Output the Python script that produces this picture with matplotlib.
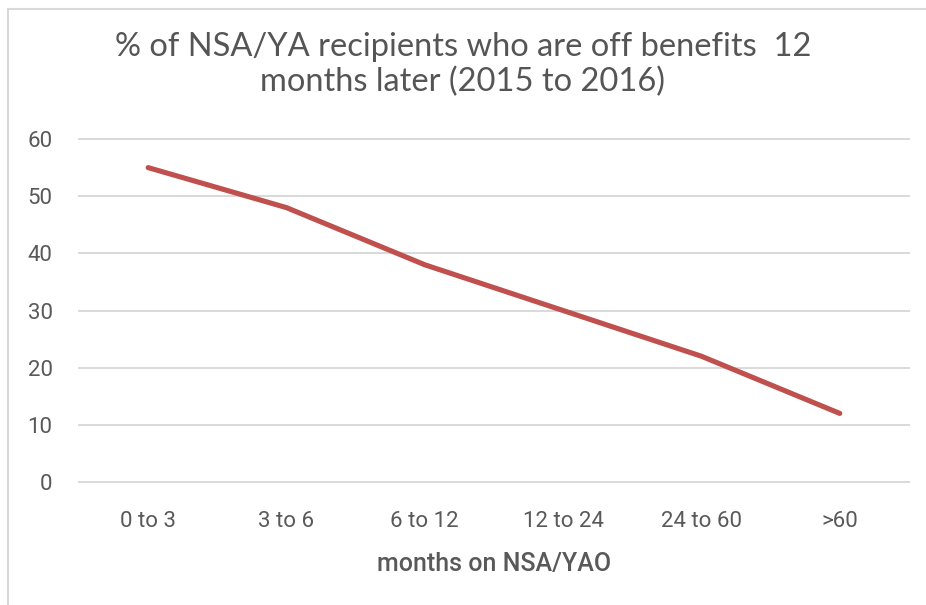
import matplotlib
matplotlib.use("Agg")
import matplotlib.pyplot as plt
from matplotlib.patches import Rectangle

# data
categories = ["0 to 3", "3 to 6", "6 to 12", "12 to 24", "24 to 60", ">60"]
pct_off = [55, 48, 38, 30, 22, 12]
y_ticks = [0, 10, 20, 30, 40, 50, 60]

title = "% of NSA/YA recipients who are off benefits  12\nmonths later (2015 to 2016)"
xlabel = "months on NSA/YAO"

plt.rcParams['font.family'] = ['Roboto', 'DejaVu Sans']

fig = plt.figure(figsize=(9.26, 6.05), dpi=100)
ax = fig.add_axes([0.0853, 0.2033, 0.8963, 0.5669])

x = list(range(len(categories)))
ax.plot(x, pct_off, color='#C0504D', linewidth=3.7, solid_capstyle='round', zorder=3)

ax.set_xlim(-0.5, len(categories) - 0.5)
ax.set_ylim(0, 60)
ax.set_yticks(y_ticks)
ax.set_xticks(x)
ax.set_xticklabels(categories)
for s in ax.spines.values():
    s.set_visible(False)
ax.tick_params(axis='both', length=0, labelsize=16, colors='#595959')
ax.tick_params(axis='y', pad=19)
ax.tick_params(axis='x', pad=21)
for t in y_ticks:
    ax.axhline(t, color='#D9D9D9', linewidth=1.4, zorder=1, clip_on=False)

ax.set_xlabel(xlabel, fontsize=18, color='#595959', fontweight='medium', labelpad=14)

fig.text(0.5, 0.893, title, ha='center', va='center', fontsize=23.5, color='#555555',
         family=['Lato', 'DejaVu Sans'], linespacing=1.2)

# light frame like the source image
fig.patches.append(Rectangle((8 / 926, -0.1), 1.2, 1.1 - 8.5 / 605, transform=fig.transFigure,
                             fill=False, edgecolor='#D9D9D9', linewidth=1.5, clip_on=False))

fig.savefig("out.png", dpi=100)
